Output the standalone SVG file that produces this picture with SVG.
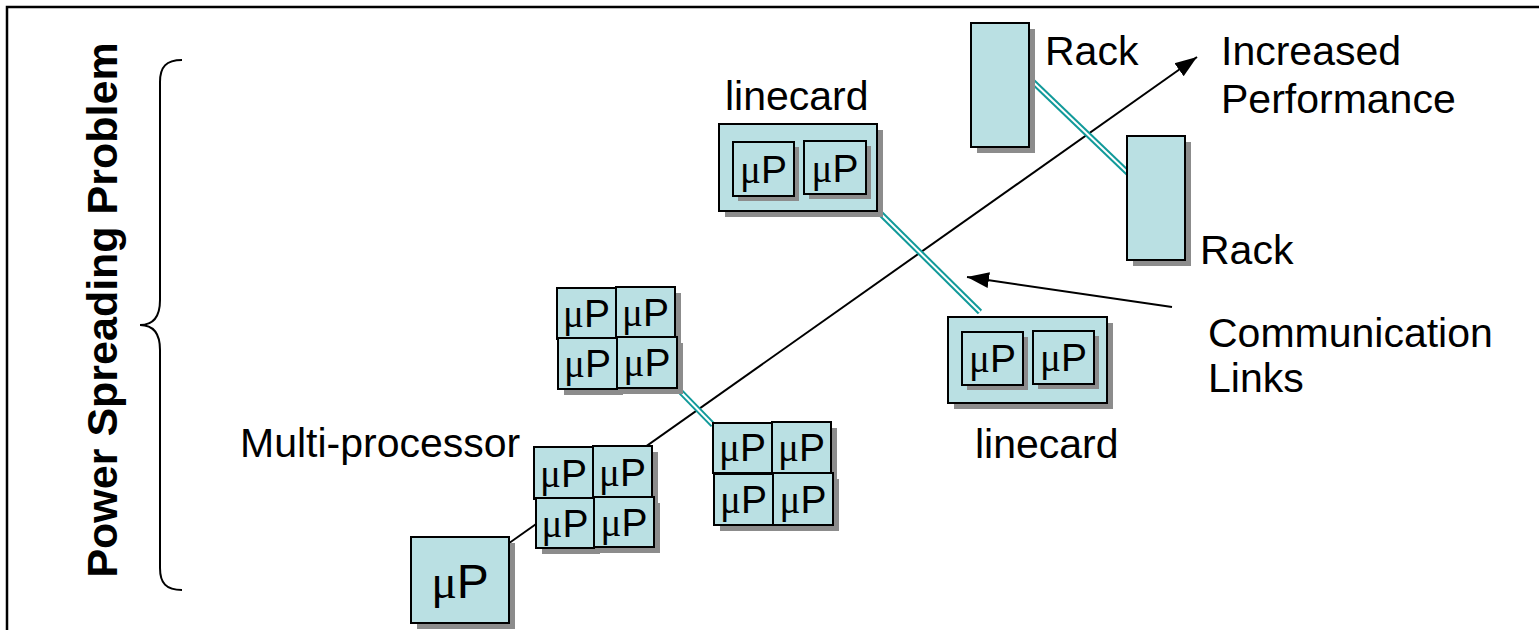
<svg xmlns="http://www.w3.org/2000/svg" width="1539" height="630" viewBox="0 0 1539 630">
<defs>
<style>
.b{fill:#BAE0E3;stroke:#000;stroke-width:2}
.s{fill:#8C8C8C}
.t{font-family:"Liberation Sans",Arial,sans-serif;font-size:41px;fill:#000}
.m{font-family:"Liberation Sans",Arial,sans-serif;font-size:39px;fill:#000;text-anchor:middle}
.mu{font-family:"Liberation Serif","Times New Roman",serif}
.tl{stroke:#119A9A;stroke-width:6;fill:none}
.tw{stroke:#fff;stroke-width:2;fill:none}
.ln{stroke:#000;stroke-width:2;fill:none}
</style>
<marker id="ah" markerUnits="userSpaceOnUse" markerWidth="24" markerHeight="18" viewBox="0 0 24 18" refX="22" refY="9" orient="auto">
<path d="M0,1 L22,9 L0,17 Z" fill="#000"/>
</marker>
</defs>
<rect width="1539" height="630" fill="#fff"/>
<path d="M7,630 L7,7 L1539,7" fill="none" stroke="#000" stroke-width="2.5"/>

<g id="title">
<text class="t" text-anchor="middle" transform="translate(117,310) rotate(-90)" style="font-size:43px;font-weight:bold">Power Spreading Problem</text>
<path d="M182,60 C166,60 160,67 160,82 L160,300 C160,317 153,325 140,325 C153,325 160,333 160,350 L160,568 C160,583 166,590 182,590" fill="none" stroke="#000" stroke-width="2"/>
</g>

<g id="connectors">
<line class="ln" x1="505" y1="546" x2="1197" y2="57" marker-end="url(#ah)"/>
<line class="ln" x1="1172" y1="307" x2="967" y2="277" marker-end="url(#ah)"/>
<line class="tl" x1="677" y1="388" x2="713" y2="425"/>
<line class="tw" x1="677" y1="388" x2="713" y2="425"/>
<line class="tl" x1="880" y1="213" x2="980" y2="312"/>
<line class="tw" x1="880" y1="213" x2="980" y2="312"/>
<line class="tl" x1="1030" y1="79" x2="1128" y2="173"/>
<line class="tw" x1="1030" y1="79" x2="1128" y2="173"/>
</g>

<g id="up-single">
<rect class="s" x="417" y="543" width="98" height="86"/>
<rect class="b" x="411" y="537" width="98" height="86"/>
<text class="m" x="460" y="598" style="font-size:48px"><tspan class="mu">μ</tspan>P</text>
</g>

<g id="multiprocessor">
<rect class="s" x="540" y="453" width="59" height="52"/>
<rect class="s" x="599" y="452" width="59" height="51"/>
<rect class="s" x="542" y="504" width="58" height="50"/>
<rect class="s" x="600" y="503" width="60" height="50"/>
<rect class="b" x="534" y="447" width="59" height="52"/>
<rect class="b" x="593" y="446" width="59" height="51"/>
<rect class="b" x="536" y="498" width="58" height="50"/>
<rect class="b" x="594" y="497" width="60" height="50"/>
<text class="m" x="563.5" y="487"><tspan class="mu">μ</tspan>P</text>
<text class="m" x="622.5" y="486"><tspan class="mu">μ</tspan>P</text>
<text class="m" x="565" y="537"><tspan class="mu">μ</tspan>P</text>
<text class="m" x="624" y="536"><tspan class="mu">μ</tspan>P</text>
</g>

<g id="mp-upper">
<rect class="s" x="563" y="294" width="59" height="51"/>
<rect class="s" x="622" y="293" width="59" height="50"/>
<rect class="s" x="564" y="344" width="59" height="51"/>
<rect class="s" x="623" y="343" width="60" height="51"/>
<rect class="b" x="557" y="288" width="59" height="51"/>
<rect class="b" x="616" y="287" width="59" height="50"/>
<rect class="b" x="558" y="338" width="59" height="51"/>
<rect class="b" x="617" y="337" width="60" height="51"/>
<text class="m" x="586.5" y="327"><tspan class="mu">μ</tspan>P</text>
<text class="m" x="645.5" y="326"><tspan class="mu">μ</tspan>P</text>
<text class="m" x="587.5" y="377"><tspan class="mu">μ</tspan>P</text>
<text class="m" x="647" y="376"><tspan class="mu">μ</tspan>P</text>
</g>

<g id="mp-lower">
<rect class="s" x="719" y="429" width="59" height="50"/>
<rect class="s" x="778" y="428" width="59" height="51"/>
<rect class="s" x="720" y="480" width="59" height="51"/>
<rect class="s" x="779" y="479" width="60" height="52"/>
<rect class="b" x="713" y="423" width="59" height="50"/>
<rect class="b" x="772" y="422" width="59" height="51"/>
<rect class="b" x="714" y="474" width="59" height="51"/>
<rect class="b" x="773" y="473" width="60" height="52"/>
<text class="m" x="742.5" y="461"><tspan class="mu">μ</tspan>P</text>
<text class="m" x="801.5" y="461"><tspan class="mu">μ</tspan>P</text>
<text class="m" x="743.5" y="513"><tspan class="mu">μ</tspan>P</text>
<text class="m" x="803" y="513"><tspan class="mu">μ</tspan>P</text>
</g>

<g id="linecard-upper">
<rect class="s" x="725" y="130" width="158" height="87"/>
<rect class="b" x="719" y="124" width="158" height="87"/>
<rect class="s" x="738" y="147" width="61" height="54"/>
<rect class="s" x="809" y="146" width="62" height="53"/>
<rect class="b" x="733" y="142" width="61" height="54"/>
<rect class="b" x="804" y="141" width="62" height="53"/>
<text class="m" x="763.5" y="183"><tspan class="mu">μ</tspan>P</text>
<text class="m" x="835" y="182"><tspan class="mu">μ</tspan>P</text>
<text class="t" x="725" y="110">linecard</text>
</g>

<g id="linecard-lower">
<rect class="s" x="954" y="323" width="159" height="86"/>
<rect class="b" x="948" y="317" width="159" height="86"/>
<rect class="s" x="967" y="337" width="61" height="53"/>
<rect class="s" x="1038" y="336" width="61" height="53"/>
<rect class="b" x="962" y="332" width="61" height="53"/>
<rect class="b" x="1033" y="331" width="61" height="53"/>
<text class="m" x="992.5" y="372"><tspan class="mu">μ</tspan>P</text>
<text class="m" x="1063.5" y="371"><tspan class="mu">μ</tspan>P</text>
<text class="t" x="975" y="458">linecard</text>
</g>

<g id="rack-1">
<rect class="s" x="977" y="29" width="58" height="124"/>
<rect class="b" x="971" y="23" width="58" height="124"/>
<text class="t" x="1045" y="65">Rack</text>
</g>

<g id="rack-2">
<rect class="s" x="1133" y="142" width="58" height="124"/>
<rect class="b" x="1127" y="136" width="58" height="124"/>
<text class="t" x="1200" y="264">Rack</text>
</g>

<g id="labels">
<text class="t" x="240" y="457">Multi-processor</text>
<text class="t" x="1221" y="65">Increased</text>
<text class="t" x="1221" y="113">Performance</text>
<text class="t" x="1208" y="347">Communication</text>
<text class="t" x="1208" y="392">Links</text>
</g>
</svg>
